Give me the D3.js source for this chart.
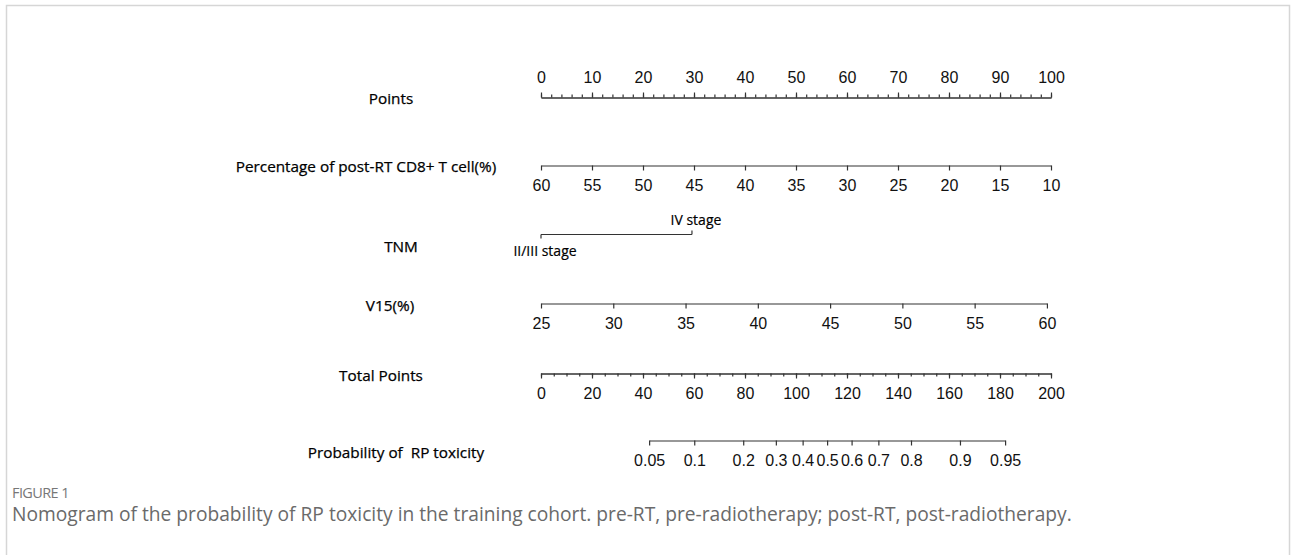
<!DOCTYPE html>
<html>
<head>
<meta charset="utf-8">
<script src="https://cdn.jsdelivr.net/npm/d3@7"></script>
<style>
  html, body { margin: 0; padding: 0; background: #fff; }
  svg { display: block; }
  .tick text { font-family: "Liberation Sans", Arial, sans-serif; fill: #111; }
  .domain, .tick line { stroke: #333; }
</style>
</head>
<body>
<svg id="chart" width="1292" height="555"></svg>
<script>
// ---- Nomogram data ----
const pointsTicks = [0, 10, 20, 30, 40, 50, 60, 70, 80, 90, 100];
const pointsMinorTicks = d3.range(0, 101, 2);

// Percentage of post-RT CD8+ T cells: 60% scores 0 points, 10% scores 100
const cd8Ticks = [60, 55, 50, 45, 40, 35, 30, 25, 20, 15, 10];
const cd8Range = [60, 10];
const cd8PointsRange = [0, 100];

// TNM stage categories and their points
const tnmCategories = ["II/III stage", "IV stage"];
const tnmPoints = [0, 29.6];

// V15 (%)
const v15Ticks = [25, 30, 35, 40, 45, 50, 55, 60];
const v15Range = [25, 60];
const v15PointsRange = [0, 99.2];

// Total points
const totalTicks = [0, 20, 40, 60, 80, 100, 120, 140, 160, 180, 200];
const totalMinorTicks = d3.range(0, 201, 5);

// Probability of RP toxicity and the total points each tick sits at
const probLabels = ["0.05", "0.1", "0.2", "0.3", "0.4", "0.5", "0.6", "0.7", "0.8", "0.9", "0.95"];
const probTotalPoints = [42.4, 60.1, 79.3, 92.1, 102.6, 112.2, 121.8, 132.3, 145.1, 164.3, 182.0];

// Row titles
const rowTitles = ["Points", "Percentage of post-RT CD8+ T cell(%)", "TNM", "V15(%)", "Total Points", "Probability of  RP toxicity"];

// ---- Layout ----
const svg = d3.select("#chart");
const x0 = 541, x1 = 1051;
const labelFont = '"Open Sans", "Noto Sans", sans-serif';
const labelSize = 15.3;
const tickFontSize = 16;

const pointsX = d3.scaleLinear().domain([0, 100]).range([x0, x1]);
const totalX = d3.scaleLinear().domain([0, 200]).range([x0, x1]);
const cd8ToPoints = d3.scaleLinear().domain(cd8Range).range(cd8PointsRange);
const v15ToPoints = d3.scaleLinear().domain(v15Range).range(v15PointsRange);

// figure frame
svg.append("path")
  .attr("d", "M6.5,555 V5.5 H1289.5 V555")
  .attr("fill", "none")
  .attr("stroke", "#d6d6d6")
  .attr("stroke-width", 1.5);

// row titles (center x, baseline y)
const titlePos = [[391, 104], [366, 172], [401, 252], [390, 311], [381, 381], [396, 458]];
svg.append("g").selectAll("text")
  .data(rowTitles)
  .join("text")
  .attr("x", (d, i) => titlePos[i][0])
  .attr("y", (d, i) => titlePos[i][1])
  .attr("text-anchor", "middle")
  .attr("font-family", labelFont)
  .attr("font-size", labelSize)
  .attr("fill", "#000")
  .attr("stroke", "#000")
  .attr("stroke-width", 0.25)
  .attr("xml:space", "preserve")
  .text(d => d);

function styleAxis(g) {
  g.selectAll("text").attr("font-size", tickFontSize);
  g.selectAll(".domain").attr("stroke-width", 1.2);
  g.selectAll(".tick line").attr("stroke-width", 1.2);
}

// Points axis (ticks upward)
const yPoints = 97.5;
svg.append("g")
  .attr("transform", `translate(0,${yPoints})`)
  .call(d3.axisTop(pointsX).tickValues(pointsMinorTicks).tickSize(3).tickFormat("").tickSizeOuter(0))
  .call(styleAxis);
svg.append("g")
  .attr("transform", `translate(0,${yPoints})`)
  .call(d3.axisTop(pointsX).tickValues(pointsTicks).tickSize(5).tickPadding(10).tickSizeOuter(0))
  .call(styleAxis);

// CD8 axis
const cd8X = d3.scaleLinear().domain(cd8Range).range([pointsX(cd8ToPoints(cd8Range[0])), pointsX(cd8ToPoints(cd8Range[1]))]);
svg.append("g")
  .attr("transform", "translate(0,165.5)")
  .call(d3.axisBottom(cd8X).tickValues(cd8Ticks).tickSize(5).tickPadding(9).tickSizeOuter(0))
  .call(styleAxis);

// TNM axis
const yTnm = 234.5;
const tnmX = tnmPoints.map(p => pointsX(p));
const tnm = svg.append("g");
tnm.append("line")
  .attr("x1", tnmX[0]).attr("x2", tnmX[1])
  .attr("y1", yTnm).attr("y2", yTnm)
  .attr("stroke", "#333").attr("stroke-width", 1.2);
tnm.selectAll("line.tk")
  .data(tnmCategories)
  .join("line")
  .attr("class", "tk")
  .attr("x1", (d, i) => tnmX[i]).attr("x2", (d, i) => tnmX[i])
  .attr("y1", yTnm)
  .attr("y2", (d, i) => i % 2 === 0 ? yTnm + 4 : yTnm - 4)
  .attr("stroke", "#333").attr("stroke-width", 1.2);
tnm.selectAll("text")
  .data(tnmCategories)
  .join("text")
  .attr("x", (d, i) => tnmX[i] + 4)
  .attr("y", (d, i) => i % 2 === 0 ? yTnm + 21 : yTnm - 10)
  .attr("text-anchor", "middle")
  .attr("font-family", labelFont)
  .attr("font-size", 14)
  .attr("fill", "#000")
  .attr("stroke", "#000")
  .attr("stroke-width", 0.2)
  .text(d => d);

// V15 axis
const v15X = d3.scaleLinear().domain(v15Range).range([pointsX(v15ToPoints(v15Range[0])), pointsX(v15ToPoints(v15Range[1]))]);
svg.append("g")
  .attr("transform", "translate(0,303.5)")
  .call(d3.axisBottom(v15X).tickValues(v15Ticks).tickSize(5).tickPadding(9).tickSizeOuter(0))
  .call(styleAxis);

// Total points axis
const yTotal = 373.5;
svg.append("g")
  .attr("transform", `translate(0,${yTotal})`)
  .call(d3.axisBottom(totalX).tickValues(totalMinorTicks).tickSize(3).tickFormat("").tickSizeOuter(0))
  .call(styleAxis);
svg.append("g")
  .attr("transform", `translate(0,${yTotal})`)
  .call(d3.axisBottom(totalX).tickValues(totalTicks).tickSize(5).tickPadding(9).tickSizeOuter(0))
  .call(styleAxis);

// Probability axis, positioned on the total-points scale
const probScale = d3.scaleLinear()
  .domain([probTotalPoints[0], probTotalPoints[probTotalPoints.length - 1]])
  .range([totalX(probTotalPoints[0]), totalX(probTotalPoints[probTotalPoints.length - 1])]);
svg.append("g")
  .attr("transform", "translate(0,440.5)")
  .call(d3.axisBottom(probScale)
    .tickValues(probTotalPoints)
    .tickFormat((d, i) => probLabels[i])
    .tickSize(5).tickPadding(9).tickSizeOuter(0))
  .call(styleAxis);

// caption
svg.append("text")
  .attr("x", 12).attr("y", 498)
  .attr("font-family", '"Open Sans", sans-serif')
  .attr("font-size", 14.5)
  .attr("fill", "#777")
  .attr("letter-spacing", -0.6)
  .text("FIGURE 1");
svg.append("text")
  .attr("x", 12).attr("y", 521)
  .attr("font-family", '"Open Sans", sans-serif')
  .attr("font-size", 19.2)
  .attr("fill", "#6a6a6a")
  .text("Nomogram of the probability of RP toxicity in the training cohort. pre-RT, pre-radiotherapy; post-RT, post-radiotherapy.");
</script>
</body>
</html>
